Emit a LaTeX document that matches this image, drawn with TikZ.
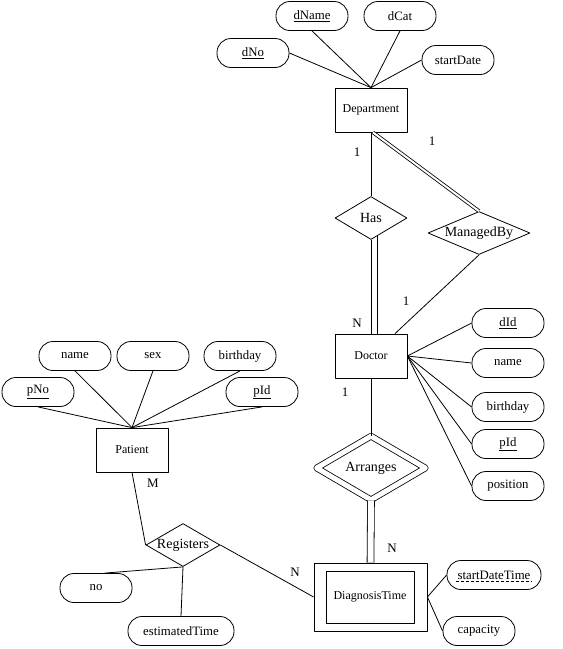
\documentclass[tikz,border=0pt]{standalone}
\usepackage{fontspec}
\setmainfont{Liberation Serif}
\usetikzlibrary{shapes.geometric}
\tikzset{
 entity/.style={draw, minimum width=72pt, minimum height=44pt, inner sep=0pt, font=\fontsize{12}{14}\selectfont},
 attr/.style={draw, rounded corners=14pt, minimum width=72pt, minimum height=29pt, inner sep=0pt, font=\fontsize{12.8}{14}\selectfont},
 rel/.style={draw, diamond, inner sep=0pt, font=\fontsize{14}{16}\selectfont},
 card/.style={inner sep=0pt, font=\fontsize{13}{15}\selectfont}
}
\newcommand\rtext[1]{\makebox[0pt]{#1}}
\begin{document}
\begin{tikzpicture}[x=1pt, y=-1pt, line width=0.8pt, line join=round]
 \useasboundingbox (0,0) rectangle (563,649);
 % entities
 \node[entity] (dept) at (371,110) {Department};
 \node[entity] (doc) at (371,356) {Doctor};
 \node[entity] (pat) at (132,450) {Patient};
 \node[entity, minimum width=88pt, minimum height=52pt] (diag) at (370,597) {DiagnosisTime};
 \node[draw, minimum width=113pt, minimum height=68pt, inner sep=0pt] (diagout) at (370.5,597) {};
 % relationships
 \node[rel, minimum width=72pt, minimum height=43pt] (has) at (371,218) {\rtext{Has}};
 \node[rel, minimum width=102pt, minimum height=43pt] (mgd) at (479,233) {\rtext{ManagedBy}};
 \node[rel, minimum width=74pt, minimum height=43pt] (reg) at (183,545) {\rtext{Registers}};
 \node[rel, double, double distance=5pt, minimum width=109pt, minimum height=64pt] (arr) at (371,468) {\rtext{Arranges}};
 % attributes
 \node[attr] (dno) at (253,53) {\underline{dNo}};
 \node[attr] (dname) at (312,16) {\underline{dName}};
 \node[attr] (dcat) at (400,16) {dCat};
 \node[attr] (sdate) at (458,60) {startDate};
 \node[attr] (did) at (508,323) {\underline{dId}};
 \node[attr] (dnm) at (508,363) {name};
 \node[attr] (dbday) at (508,407) {birthday};
 \node[attr] (dpid) at (508,444) {\underline{pId}};
 \node[attr] (dpos) at (508,486) {position};
 \node[attr] (pname) at (75,356) {name};
 \node[attr] (psex) at (153,356) {sex};
 \node[attr] (pbday) at (240,356) {birthday};
 \node[attr] (pno) at (38,392) {\underline{pNo}};
 \node[attr] (ppid) at (262,392) {\underline{pId}};
 \node[attr] (rno) at (96,588) {no};
 \node[attr, minimum width=106pt] (rtime) at (181,631) {estimatedTime};
 \node[attr, minimum width=94pt] (sdt) at (494,575) {startDateTime};
 \draw[densely dashed, line width=0.5pt] ([shift={(-38,6.5)}]sdt.center) -- ([shift={(38,6.5)}]sdt.center);
 \node[attr] (cap) at (479,631) {capacity};
 % attribute links
 \draw (dno.east) -- (dept.north);
 \draw (sdate.west) -- (dept.north);
 \foreach \a in {dname,dcat} \draw (\a.south) -- (dept.north);
 \foreach \a in {did,dnm,dbday,dpid,dpos} \draw (\a.west) -- (doc.east);
 \foreach \a in {pname,psex,pbday,pno,ppid} \draw (\a.south) -- (pat.north);
 \draw (reg.south) -- (rno.60);
 \draw (reg.south) -- (rtime.north);
 \draw (diagout.east) -- (sdt.west);
 \draw (diagout.east) -- (cap.west);
 % relationship links
 \draw (dept.south) -- (has.north);
 \draw[double, double distance=2pt] ([xshift=2pt]dept.south) -- (mgd.north);
 \draw (has.south) -- (has.south |- doc.north);
 \draw ([shift={(6,-3.6)}]has.south) -- ([xshift=6pt]has.south |- doc.north);
 \draw (mgd.south) -- ([xshift=24pt]doc.north);
 \draw (doc.south) -- (arr.north);
 \draw[double, double distance=6pt] (arr.south) -- (diagout.north);
 \draw (pat.south) -- (reg.west);
 \draw (reg.east) -- (diagout.west);
 % cardinalities
 \path
 (357,152) node[card] (c1) {1}
 (432,141) node[card] (c2) {1}
 (357,323) node[card] (c3) {N}
 (406,301) node[card] (c4) {1}
 (345,392) node[card] (c5) {1}
 (392,548) node[card] (c6) {N}
 (153,483) node[card] (c7) {M}
 (295,572) node[card] (c8) {N};
\end{tikzpicture}
\end{document}
